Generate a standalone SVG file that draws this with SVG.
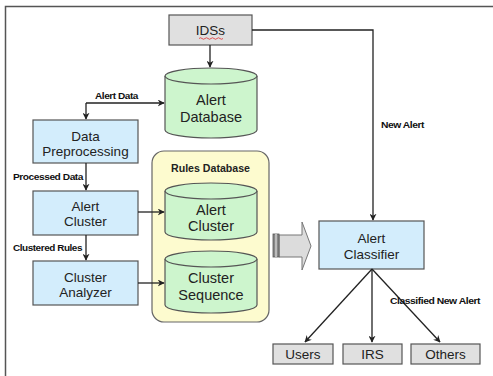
<svg xmlns="http://www.w3.org/2000/svg" width="493" height="376" viewBox="0 0 493 376">
<style>
.box{stroke:#555;stroke-width:1.2}
.blue{fill:#d3edfc}
.gray{fill:#e0e0e0}
.cyl{fill:#cdf5cd;stroke:#555;stroke-width:1.2}
.t{font-family:"Liberation Sans",Arial,sans-serif;font-size:13.5px;fill:#222;text-anchor:middle}
.ct{font-family:"Liberation Sans",Arial,sans-serif;font-size:14.5px;fill:#222;text-anchor:middle}
.lbl{font-family:"Liberation Sans",Arial,sans-serif;font-size:9px;font-weight:bold;fill:#111;letter-spacing:-0.4px}
.line{fill:none;stroke:#222;stroke-width:1.3}
</style>
<defs>
<marker id="ah" viewBox="0 0 10 10" refX="9" refY="5" markerWidth="7" markerHeight="7" markerUnits="userSpaceOnUse" orient="auto">
<path d="M0,0 L10,5 L0,10 L3,5 Z" fill="#222"/>
</marker>
</defs>
<rect width="493" height="376" fill="#fff"/>
<path d="M5.5,376 V6.5 H493" fill="none" stroke="#555" stroke-width="1.5"/>

<g id="rules-database">
<rect x="152" y="151" width="117" height="171" rx="12" fill="#fdfbcf" stroke="#666" stroke-width="1.2"/>
<text x="210.5" y="172" font-family="'Liberation Sans',Arial,sans-serif" font-size="10.5" font-weight="bold" fill="#222" text-anchor="middle" textLength="79" lengthAdjust="spacingAndGlyphs">Rules Database</text>
</g>

<g id="idss">
<rect class="box gray" x="169" y="15" width="83" height="30"/>
<text class="t" x="210.5" y="35">IDSs</text>
<path d="M199,38.5 q1.5,-1.5 3,0 t3,0 t3,0 t3,0 t3,0 t3,0 t3,0 t3,0" fill="none" stroke="#e03030" stroke-width="0.8"/>
</g>

<g id="alert-database">
<path class="cyl" d="M165,76 V130 A46,8 0 0 0 257,130 V76"/>
<ellipse class="cyl" cx="211" cy="76" rx="46" ry="8"/>
<text class="ct" x="211" y="105">Alert</text>
<text class="ct" x="211" y="122">Database</text>
</g>

<g id="data-preprocessing">
<rect class="box blue" x="33" y="120" width="105" height="43"/>
<text class="t" x="85.5" y="140.5">Data</text>
<text class="t" x="85.5" y="156">Preprocessing</text>
</g>

<g id="alert-cluster">
<rect class="box blue" x="33" y="191" width="105" height="44"/>
<text class="t" x="85.5" y="211">Alert</text>
<text class="t" x="85.5" y="226">Cluster</text>
</g>

<g id="cluster-analyzer">
<rect class="box blue" x="33" y="261" width="105" height="44"/>
<text class="t" x="85.5" y="281.5">Cluster</text>
<text class="t" x="85.5" y="296.5">Analyzer</text>
</g>

<g id="alert-cluster-db">
<path class="cyl" d="M165,191 V232 A46,8 0 0 0 257,232 V191"/>
<ellipse class="cyl" cx="211" cy="191" rx="46" ry="8"/>
<text class="ct" x="211" y="215">Alert</text>
<text class="ct" x="211" y="231">Cluster</text>
</g>

<g id="cluster-sequence-db">
<path class="cyl" d="M165,259 V305 A46,8 0 0 0 257,305 V259"/>
<ellipse class="cyl" cx="211" cy="259" rx="46" ry="8"/>
<text class="ct" x="211" y="283">Cluster</text>
<text class="ct" x="211" y="300">Sequence</text>
</g>

<g id="big-arrow">
<path d="M279,235 H302 V222 L311,246 L302,270 V257 H279 Z" fill="#dcdcdc" stroke="#777" stroke-width="1"/>
<rect x="273" y="234" width="6" height="23" fill="#888" stroke="#555" stroke-width="0.8"/>
<rect x="275" y="234" width="2" height="23" fill="#bbb"/>
</g>

<g id="alert-classifier">
<rect class="box blue" x="319" y="221" width="105" height="48"/>
<text class="t" x="371.5" y="243">Alert</text>
<text class="t" x="371.5" y="259">Classifier</text>
</g>

<g id="users">
<rect class="box gray" x="273" y="344" width="60" height="20"/>
<text class="t" x="303" y="359">Users</text>
</g>
<g id="irs">
<rect class="box gray" x="343" y="344" width="59" height="20"/>
<text class="t" x="372.5" y="359">IRS</text>
</g>
<g id="others">
<rect class="box gray" x="411" y="344" width="69" height="20"/>
<text class="t" x="445.5" y="359">Others</text>
</g>

<g id="connectors">
<path class="line" d="M210,45 V67" marker-end="url(#ah)"/>
<path class="line" d="M86,103 H164" marker-end="url(#ah)"/>
<path class="line" d="M86,103 V119" marker-end="url(#ah)"/>
<path class="line" d="M86,163 V190" marker-end="url(#ah)"/>
<path class="line" d="M138,212 H164" marker-end="url(#ah)"/>
<path class="line" d="M86,235 V260" marker-end="url(#ah)"/>
<path class="line" d="M138,283 H164" marker-end="url(#ah)"/>
<path class="line" d="M252,30 H373 V220" marker-end="url(#ah)"/>
<path class="line" d="M372,269 L305,342" marker-end="url(#ah)"/>
<path class="line" d="M372,269 V342" marker-end="url(#ah)"/>
<path class="line" d="M372,269 L440,342" marker-end="url(#ah)"/>
<text class="lbl" x="95" y="99" textLength="43" lengthAdjust="spacingAndGlyphs">Alert Data</text>
<text class="lbl" x="13" y="180" textLength="70" lengthAdjust="spacingAndGlyphs">Processed Data</text>
<text class="lbl" x="13" y="251" textLength="69" lengthAdjust="spacingAndGlyphs">Clustered Rules</text>
<text class="lbl" x="381" y="128" textLength="43" lengthAdjust="spacingAndGlyphs">New Alert</text>
<text class="lbl" x="390" y="304" textLength="90" lengthAdjust="spacingAndGlyphs">Classified New Alert</text>
</g>
</svg>
